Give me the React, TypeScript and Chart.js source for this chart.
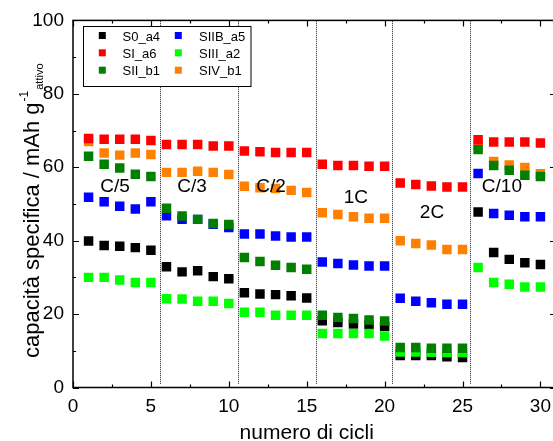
import { useEffect, useRef } from "react";
import { Chart, registerables } from "chart.js";

Chart.register(...registerables);

const FONT = "'Liberation Sans', Arial, sans-serif";

const cycles = [1, 2, 3, 4, 5, 6, 7, 8, 9, 10, 11, 12, 13, 14, 15, 16, 17, 18, 19, 20, 21, 22, 23, 24, 25, 26, 27, 28, 29, 30];

const S0_a4 = [39.9, 38.7, 38.5, 38.1, 37.4, 32.9, 31.5, 31.8, 30.2, 29.6, 25.8, 25.5, 25.3, 25.0, 24.4, 18.2, 17.7, 17.3, 17.0, 16.7, 8.7, 8.7, 8.7, 8.4, 8.2, 47.8, 36.8, 34.9, 34.0, 33.5];
const SI_a6 = [67.8, 67.6, 67.6, 67.6, 67.3, 66.2, 66.2, 66.2, 65.8, 65.8, 64.4, 64.2, 64.0, 64.0, 64.0, 60.8, 60.5, 60.5, 60.3, 60.3, 55.7, 55.3, 54.9, 54.6, 54.6, 67.5, 66.9, 66.9, 66.9, 66.6];
const SII_b1 = [63.0, 60.8, 59.8, 58.1, 57.5, 48.8, 46.7, 45.8, 44.7, 44.4, 35.4, 34.3, 33.3, 32.7, 32.2, 19.7, 19.1, 18.8, 18.4, 18.1, 10.9, 10.9, 10.7, 10.7, 10.7, 64.8, 60.5, 59.2, 57.8, 57.5];
const SIIB_a5 = [51.8, 50.6, 49.4, 48.6, 50.6, 46.8, 45.8, 45.8, 44.5, 43.6, 41.8, 41.8, 41.3, 41.0, 41.0, 34.2, 33.8, 33.4, 33.1, 33.1, 24.3, 23.5, 23.1, 22.7, 22.7, 58.3, 47.4, 46.9, 46.5, 46.5];
const SIII_a2 = [30.0, 30.0, 29.3, 28.6, 28.6, 24.2, 24.1, 23.5, 23.5, 22.9, 20.5, 20.5, 19.7, 19.7, 19.7, 14.7, 14.7, 14.7, 14.7, 14.0, 9.7, 9.7, 9.6, 9.5, 9.5, 32.7, 28.6, 28.1, 27.4, 27.4];
const SIV_b1 = [67.0, 63.9, 63.3, 63.9, 63.5, 58.6, 58.6, 58.9, 58.6, 58.0, 54.8, 54.4, 54.2, 53.7, 53.1, 47.6, 47.1, 46.5, 46.1, 46.1, 40.0, 39.2, 38.8, 37.6, 37.6, 66.0, 61.6, 60.6, 59.9, 58.2];

const seriesNames = ["S0_a4", "SI_a6", "SII_b1", "SIIB_a5", "SIII_a2", "SIV_b1"];
const seriesValues = [S0_a4, SI_a6, SII_b1, SIIB_a5, SIII_a2, SIV_b1];
const seriesColors = ["#000000", "#ff0000", "#007f00", "#0000ff", "#00ff00", "#ff8000"];
const seriesOrder = [4, 1, 0, 3, 2, 5];

const separatorX = [5.6, 10.6, 15.6, 20.5, 25.5];
const rateLabels = ["C/5", "C/3", "C/2", "1C", "2C", "C/10"];
const rateX = [2.7, 7.64, 12.71, 18.16, 23.04, 27.53];
const rateY = [54.8, 54.8, 54.8, 51.8, 47.7, 54.8];

const xTitle = "numero di cicli";
const yTitleMain = "capacità specifica / mAh g";
const yTitleSup = "-1";
const yTitleSub = "attivo";

const decorPlugin = {
  id: "decor",
  beforeDatasetsDraw(chart: any) {
    const { ctx, chartArea: a, scales } = chart;
    const x = scales.x, y = scales.y;
    ctx.save();
    ctx.strokeStyle = "#222";
    ctx.lineWidth = 1;
    ctx.setLineDash([1, 1]);
    for (const v of separatorX) {
      const px = Math.round(x.getPixelForValue(v)) + 0.5;
      ctx.beginPath();
      ctx.moveTo(px, y.getPixelForValue(1));
      ctx.lineTo(px, a.top);
      ctx.stroke();
    }
    ctx.restore();
  },
  afterDraw(chart: any) {
    const { ctx, chartArea: a, scales } = chart;
    const x = scales.x, y = scales.y;
    ctx.save();
    // frame
    ctx.strokeStyle = "#000";
    ctx.lineWidth = 1.5;
    ctx.strokeRect(a.left, a.top, a.right - a.left, a.bottom - a.top);
    // ticks
    ctx.lineWidth = 1.2;
    ctx.beginPath();
    for (let v = 0; v <= 100; v += 10) {
      const py = Math.round(y.getPixelForValue(v)) + 0.5;
      const len = v % 20 === 0 ? 6 : 3;
      ctx.moveTo(a.left, py); ctx.lineTo(a.left + len, py);
      ctx.moveTo(a.right, py); ctx.lineTo(a.right - len, py);
    }
    for (let v = 0; v <= 30; v += 2.5) {
      const px = Math.round(x.getPixelForValue(v)) + 0.5;
      const len = v % 5 === 0 ? 6 : 3;
      ctx.moveTo(px, a.bottom); ctx.lineTo(px, a.bottom - len);
      ctx.moveTo(px, a.top); ctx.lineTo(px, a.top + len);
    }
    ctx.stroke();

    // rate annotations
    ctx.fillStyle = "#000";
    ctx.font = `19px ${FONT}`;
    ctx.textAlign = "center";
    ctx.textBaseline = "middle";
    rateLabels.forEach((t, i) => {
      ctx.fillText(t, x.getPixelForValue(rateX[i]), y.getPixelForValue(rateY[i]));
    });

    // x title
    ctx.font = `21px ${FONT}`;
    ctx.textAlign = "center";
    ctx.textBaseline = "alphabetic";
    ctx.fillText(xTitle, x.getPixelForValue(15), 439);

    // y title
    ctx.save();
    ctx.translate(39, 358);
    ctx.rotate(-Math.PI / 2);
    ctx.textAlign = "left";
    ctx.textBaseline = "alphabetic";
    ctx.font = `22px ${FONT}`;
    ctx.fillText(yTitleMain, 0, 0);
    let w = ctx.measureText(yTitleMain).width + 1;
    ctx.font = `12px ${FONT}`;
    ctx.fillText(yTitleSup, w, -11);
    w += ctx.measureText(yTitleSup).width + 1;
    ctx.font = `11px ${FONT}`;
    ctx.fillText(yTitleSub, w, 4);
    ctx.restore();

    // legend
    const lx = 83.5, ly = 26.5, lw = 167.5, lh = 60;
    ctx.fillStyle = "#fff";
    ctx.fillRect(lx, ly, lw, lh);
    ctx.strokeStyle = "#000";
    ctx.lineWidth = 1;
    ctx.strokeRect(lx, ly, lw, lh);
    const colMarkX = [102.3, 178.3];
    const colTextX = [122.5, 199];
    const rowY = [35.5, 52.8, 70.2];
    ctx.font = `13px ${FONT}`;
    ctx.textAlign = "left";
    ctx.textBaseline = "middle";
    chart.data.datasets.forEach((ds: any, i: number) => {
      const c = Math.floor(i / 3), r = i % 3;
      ctx.fillStyle = ds.backgroundColor;
      ctx.fillRect(colMarkX[c] - 3.5, rowY[r] - 3.5, 7, 7);
      ctx.fillStyle = "#000";
      ctx.fillText(ds.label, colTextX[c], rowY[r] + 1.5);
    });
    ctx.restore();
  },
};

export default function App() {
  const ref = useRef<HTMLCanvasElement | null>(null);
  useEffect(() => {
    document.body.style.margin = "0";
    document.body.style.overflow = "hidden";
    const canvas = ref.current!;
    const chart = new Chart(canvas, {
      type: "scatter",
      data: {
        datasets: seriesNames.map((name, i) => ({
          label: name,
          data: cycles.map((c, j) => ({ x: c, y: seriesValues[i][j] })),
          backgroundColor: seriesColors[i],
          borderColor: seriesColors[i],
          borderWidth: 0,
          pointStyle: "rect",
          pointRadius: 6.7,
          pointHoverRadius: 6.7,
          order: seriesOrder[i],
        })),
      },
      options: {
        responsive: false,
        animation: false,
        devicePixelRatio: 1,
        layout: { autoPadding: false, padding: { top: 20, right: 4, left: 0, bottom: 0 } },
        plugins: { legend: { display: false }, tooltip: { enabled: false } },
        scales: {
          x: {
            type: "linear",
            min: 0,
            max: 31,
            afterFit: (s: any) => { s.height = 53.5; },
            ticks: { stepSize: 5, includeBounds: false, color: "#000", font: { family: FONT, size: 19 }, padding: 8, maxRotation: 0 },
            grid: { display: false, drawTicks: false },
            border: { display: false },
          },
          y: {
            type: "linear",
            min: 0,
            max: 100,
            afterFit: (s: any) => { s.width = 73; },
            ticks: { stepSize: 20, color: "#000", font: { family: FONT, size: 19 }, padding: 9 },
            grid: { display: false, drawTicks: false },
            border: { display: false },
          },
        },
      },
      plugins: [decorPlugin],
    } as any);
    return () => chart.destroy();
  }, []);
  return (
    <div style={{ width: 553, height: 441, overflow: "hidden", background: "#fff" }}>
      <canvas ref={ref} width={560} height={441} style={{ width: 560, height: 441, display: "block" }} />
    </div>
  );
}
